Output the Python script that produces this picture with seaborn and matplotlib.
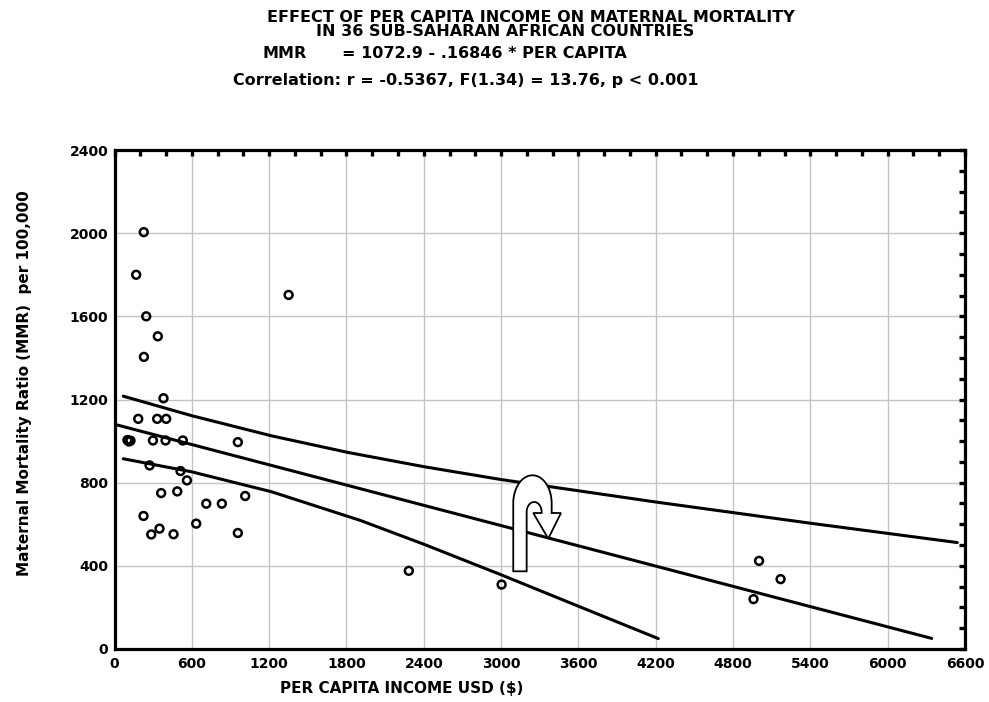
import matplotlib
matplotlib.use("Agg")
import matplotlib.pyplot as plt
import matplotlib.transforms as mtransforms
import seaborn as sns
import pandas as pd
import numpy as np
from matplotlib.path import Path
from matplotlib.patches import PathPatch
from matplotlib.ticker import MultipleLocator

# per capita income (USD) and maternal mortality ratio, 36 countries
income = [227, 168, 246, 336, 228, 1351, 380, 184, 331, 401,
          100, 112, 124, 298, 396, 530, 957, 272, 512, 562,
          362, 487, 1014, 712, 833, 225, 634, 349, 285, 458,
          957, 2284, 3004, 5002, 5169, 4959]
mmr = [2005, 1800, 1600, 1504, 1405, 1703, 1206, 1107, 1107, 1107,
       1005, 998, 1002, 1003, 1003, 1003, 995, 883, 856, 811,
       750, 758, 736, 699, 699, 640, 603, 579, 551, 552,
       558, 376, 310, 424, 336, 240]

# regression line and 95% band
fit_x = [17, 6342]
fit_y = [1078, 51]
upper_x = [68, 600, 1220, 1815, 2400, 3000, 4200, 5400, 6540]
upper_y = [1216, 1122, 1025, 945, 877, 815, 707, 605, 512]
lower_x = [68, 600, 1220, 1905, 2400, 3000, 3460, 4220]
lower_y = [915, 852, 756, 619, 504, 357, 241, 50]

xticks = list(range(0, 6601, 600))
yticks = list(range(0, 2401, 400))
xtick_labels = [str(v) for v in xticks]
ytick_labels = [str(v) for v in yticks]

arrow_tip = (3366, 531)

sns.set_style("white")
plt.rcParams["font.family"] = ["DejaVu Sans"]
plt.rcParams["font.weight"] = "bold"
plt.rcParams["text.color"] = "black"
plt.rcParams["axes.labelcolor"] = "black"
plt.rcParams["xtick.color"] = "black"
plt.rcParams["ytick.color"] = "black"

fig = plt.figure(figsize=(9.89, 7.02), dpi=100)
ax = fig.add_axes([0.1158, 0.0755, 0.8599, 0.7108])

df = pd.DataFrame({"income": income, "mmr": mmr})
sns.lineplot(x=fit_x, y=fit_y, color="black", lw=2.2, ax=ax)
sns.lineplot(x=upper_x, y=upper_y, color="black", lw=2.2, ax=ax, sort=False)
sns.lineplot(x=lower_x, y=lower_y, color="black", lw=2.2, ax=ax, sort=False)
sns.scatterplot(data=df, x="income", y="mmr", marker="o", s=32,
                facecolor="none", edgecolor="black", linewidth=1.8, ax=ax, zorder=3)

ax.set_xlim(0, 6600)
ax.set_ylim(0, 2400)
ax.set_xticks(xticks, labels=xtick_labels)
ax.set_yticks(yticks, labels=ytick_labels)
ax.xaxis.set_minor_locator(MultipleLocator(200))
ax.yaxis.set_minor_locator(MultipleLocator(100))
ax.grid(True, which="major", color="#c4c4c4", lw=1)
ax.set_axisbelow(True)
ax.tick_params(which="both", direction="in", length=4, width=2.4,
               top=True, right=True, labelsize=10)
ax.tick_params(axis="y", pad=4.5)
ax.tick_params(axis="x", pad=6)
for sp in ax.spines.values():
    sp.set_linewidth(2.3)
    sp.set_color("black")
ax.set_xlabel("")
ax.set_ylabel("")

# hook shaped arrow, outline in pixel offsets from its tip
t = np.linspace(np.pi, 0, 40)
outer = np.column_stack([-15.8 + 19.2 * np.cos(t), 35.3 + 28 * np.sin(t)])
t2 = np.linspace(0, np.pi, 30)
inner = np.column_stack([-14.1 + 7.5 * np.cos(t2), 26.6 + 10 * np.sin(t2)])
verts = np.vstack([[[-35, -32.7]], outer,
                   [[3.4, 25.6], [12.7, 25.6], [0, 0], [-15, 25.6], [-6.6, 25.6]],
                   inner, [[-21.6, -32.7], [-35, -32.7]]])
codes = [Path.MOVETO] + [Path.LINETO] * (len(verts) - 2) + [Path.CLOSEPOLY]
tip_px = ax.transData.transform(arrow_tip)
hook = PathPatch(Path(verts, codes), facecolor="white", edgecolor="black", lw=1.3,
                 transform=mtransforms.Affine2D().translate(*tip_px), zorder=5)
fig.add_artist(hook)

fig.text(531 / 989, 1 - 17 / 702, "EFFECT OF PER CAPITA INCOME ON MATERNAL MORTALITY",
         ha="center", va="center", fontsize=11.5, fontweight="bold")
fig.text(505 / 989, 1 - 31.5 / 702, "IN 36 SUB-SAHARAN AFRICAN COUNTRIES",
         ha="center", va="center", fontsize=11.5, fontweight="bold")
fig.text(263 / 989, 1 - 54 / 702, "MMR", ha="left", va="center", fontsize=11.5, fontweight="bold")
fig.text(342 / 989, 1 - 54 / 702, "= 1072.9 - .16846 * PER CAPITA",
         ha="left", va="center", fontsize=11.5, fontweight="bold")
fig.text(233 / 989, 1 - 80 / 702, "Correlation: r = -0.5367, F(1.34) = 13.76, p < 0.001",
         ha="left", va="center", fontsize=11.5, fontweight="bold")
fig.text(25 / 989, 1 - 383 / 702, "Maternal Mortality Ratio (MMR)  per 100,000",
         ha="center", va="center", rotation=90, fontsize=11, fontweight="bold")
fig.text(402 / 989, 1 - 688 / 702, "PER CAPITA INCOME USD ($)",
         ha="center", va="center", fontsize=11, fontweight="bold")

fig.savefig("out.png", dpi=100)
